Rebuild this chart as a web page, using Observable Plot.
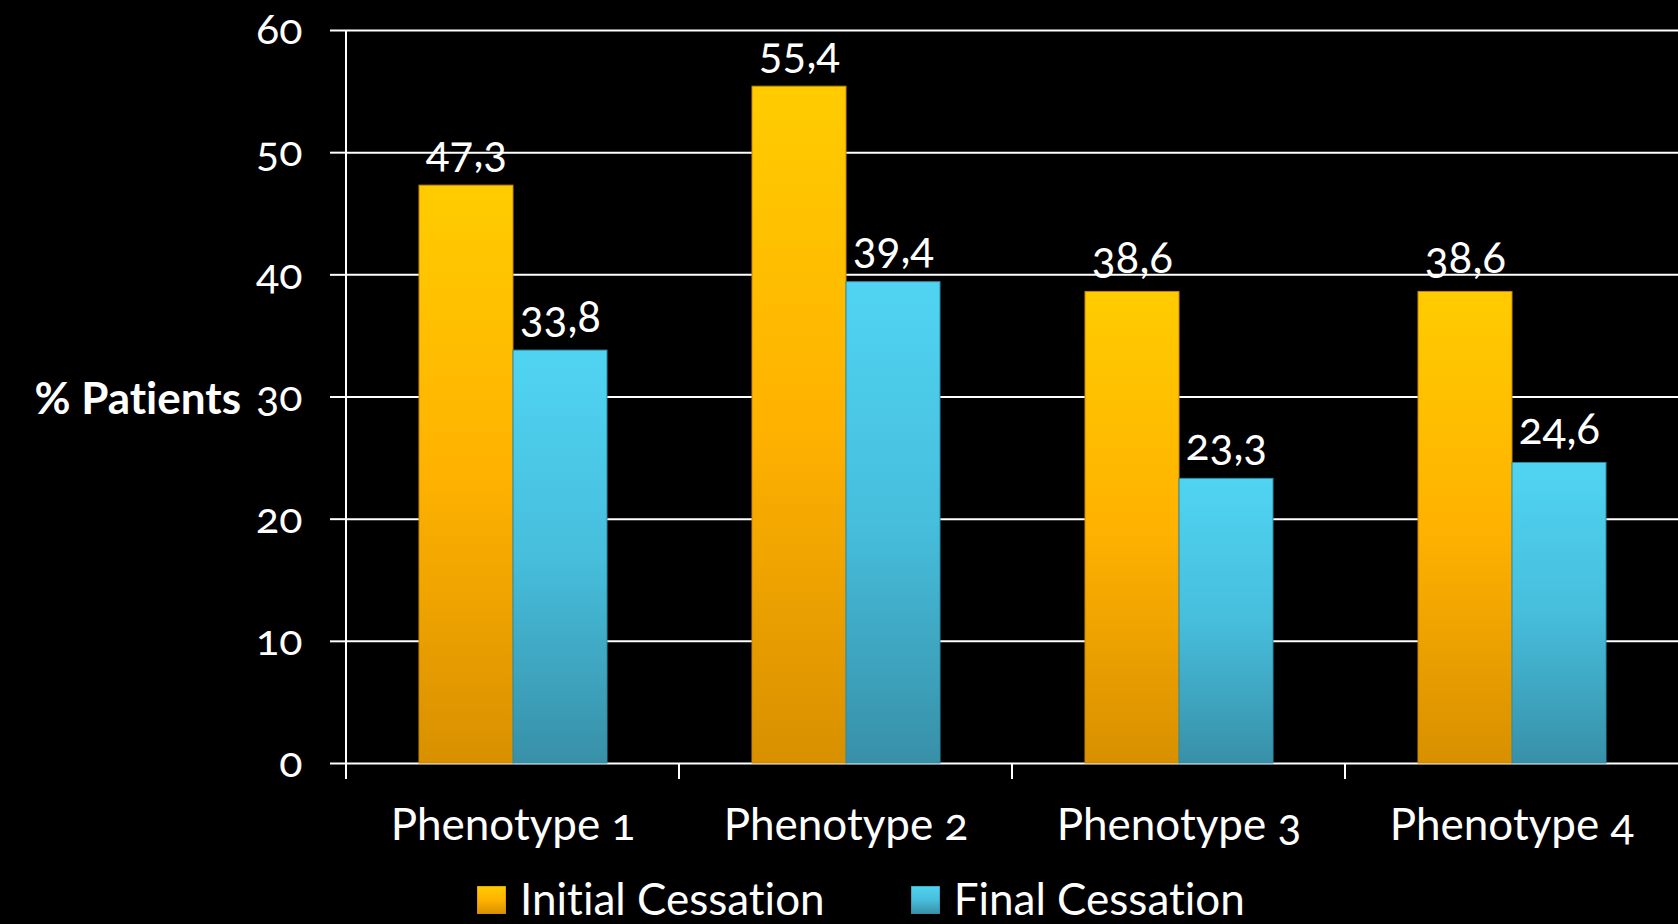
<!DOCTYPE html>
<html>
<head>
<meta charset="utf-8">
<script src="https://cdn.jsdelivr.net/npm/d3@7"></script>
<script src="https://cdn.jsdelivr.net/npm/@observablehq/plot@0.6"></script>
<style>
  html, body { margin: 0; padding: 0; background: #000; overflow: hidden; }
  body { width: 1678px; height: 924px; position: relative; font-family: Lato, "Open Sans", sans-serif; color: #fff; font-variant-ligatures: none; }
  #chart svg { display: block; }
  #chart text { font-variant-numeric: oldstyle-nums; font-variant-ligatures: none; }
  #chart g[aria-label="y-axis tick"] path { stroke-width: 2; }
  #chart g[aria-label="y-axis tick label"] text { font-size: 43px; }
  #chart g[aria-label="fx-axis tick label"] text { font-size: 44px; }
  #ylabel { position: absolute; right: calc(1678px - 241px); top: 375px; font-size: 44px; font-weight: bold; line-height: 1; white-space: nowrap; }
  #legend { position: absolute; left: 477px; top: 876px; display: flex; align-items: flex-start; font-size: 44px; line-height: 1; white-space: nowrap; }
  #legend .item { display: flex; align-items: flex-start; }
  #legend .item + .item { margin-left: 86px; }
  #legend .sw { width: 29px; height: 28px; margin-top: 10px; margin-right: 14px; box-sizing: border-box; }
</style>
</head>
<body>
<svg width="0" height="0" style="position:absolute">
  <defs>
    <linearGradient id="gradInitial" x1="0" y1="0" x2="0" y2="1">
      <stop offset="0" stop-color="#FFCC00"/>
      <stop offset="0.5" stop-color="#FFB200"/>
      <stop offset="1" stop-color="#D89000"/>
    </linearGradient>
    <linearGradient id="gradFinal" x1="0" y1="0" x2="0" y2="1">
      <stop offset="0" stop-color="#50D4F2"/>
      <stop offset="0.5" stop-color="#46BEDC"/>
      <stop offset="1" stop-color="#3890A8"/>
    </linearGradient>
  </defs>
</svg>
<div id="chart"></div>
<div id="ylabel">% Patients</div>
<div id="legend"></div>
<script>
const categories = ["Phenotype 1", "Phenotype 2", "Phenotype 3", "Phenotype 4"];
const seriesNames = ["Initial Cessation", "Final Cessation"];
const initialValues = [47.3, 55.4, 38.6, 38.6];
const finalValues = [33.8, 39.4, 23.3, 24.6];
const yTicks = [0, 10, 20, 30, 40, 50, 60];
const seriesFills = ["url(#gradInitial)", "url(#gradFinal)"];
const seriesStrokes = ["#C98800", "#2F8AA2"];

const data = [];
categories.forEach((c, i) => {
  data.push({category: c, series: seriesNames[0], value: initialValues[i]});
  data.push({category: c, series: seriesNames[1], value: finalValues[i]});
});

const plot = Plot.plot({
  width: 1678,
  height: 870,
  marginLeft: 346,
  marginRight: 0,
  marginTop: 30,
  marginBottom: 107,
  style: {background: "#000", color: "#fff", fontFamily: "Lato, 'Open Sans', sans-serif", fontSize: "40px"},
  fx: {domain: categories, padding: 0, axis: "bottom", tickSize: 0, tickPadding: 45, label: null},
  x: {domain: seriesNames, paddingInner: 0, paddingOuter: 0.755, align: 0.5, axis: null},
  y: {domain: [0, 60], ticks: yTicks, tickSize: 16, tickPadding: 28, label: null},
  color: {domain: seriesNames, range: seriesFills},
  marks: [
    Plot.ruleY(yTicks, {stroke: "#fff", strokeWidth: 2}),
    Plot.barY(data, {
      fx: "category", x: "series", y: "value",
      fill: "series",
      stroke: d => seriesStrokes[seriesNames.indexOf(d.series)],
      strokeWidth: 1
    }),
    Plot.text(data, {
      fx: "category", x: "series", y: "value",
      text: d => d.value.toFixed(1).replace(".", ","),
      fill: "#fff", fontSize: 44, lineAnchor: "bottom", dy: -19
    })
  ]
});

document.getElementById("chart").appendChild(plot);

// axis line and category boundary ticks, positioned from the plot's own scales
const fx = plot.scale("fx");
const ys = plot.scale("y");
const svg = d3.select(plot);
const y0 = ys.apply(0);
const yTop = ys.apply(60);
const g = svg.append("g").attr("stroke", "#fff").attr("stroke-width", 2);
g.append("line")
  .attr("x1", fx.apply(categories[0])).attr("x2", fx.apply(categories[0]))
  .attr("y1", yTop).attr("y2", y0 + 16);
categories.slice(1).forEach(c => {
  const xv = fx.apply(c);
  g.append("line").attr("x1", xv).attr("x2", xv).attr("y1", y0).attr("y2", y0 + 16);
});

// legend
const legend = d3.select("#legend");
seriesNames.forEach((s, i) => {
  const item = legend.append("div").attr("class", "item");
  item.append("svg").attr("class", "sw").attr("width", 29).attr("height", 28)
    .append("rect").attr("width", 29).attr("height", 28)
    .attr("fill", seriesFills[i]).attr("stroke", seriesStrokes[i]);
  item.append("span").text(s);
});
</script>
</body>
</html>
